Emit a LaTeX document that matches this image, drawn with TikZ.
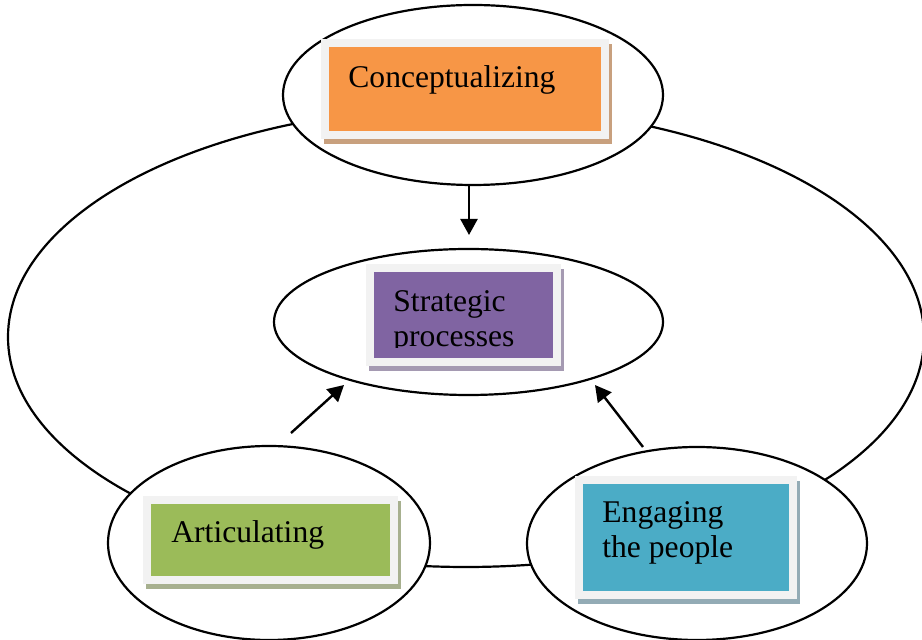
\documentclass[tikz,border=0pt]{standalone}
\usepackage{fontspec}
\setmainfont{Liberation Serif}
\usetikzlibrary{shapes.geometric, arrows.meta}

\definecolor{framegray}{HTML}{F2F2F2}
\definecolor{concorange}{HTML}{F79646}
\definecolor{concshade}{HTML}{C8A07E}
\definecolor{strapurple}{HTML}{8064A2}
\definecolor{strashade}{HTML}{A59AB2}
\definecolor{artgreen}{HTML}{9BBB59}
\definecolor{artshade}{HTML}{A7B08F}
\definecolor{engcyan}{HTML}{4BACC6}
\definecolor{engshade}{HTML}{93ABB5}

\tikzset{
  ring/.style={draw, ellipse, line width=1.1pt, fill=white, inner sep=0pt},
  tile/.style 2 args={rectangle, fill=#1, draw=framegray, line width=4pt, inner sep=0pt,
    preaction={draw=#2, fill=#2, transform canvas={shift={(1.5pt,-2.75pt)}}}},
  word/.style={font=\fontsize{15.8}{17.5}\selectfont, anchor=base west, inner sep=0pt, align=left},
  flow/.style={line width=1.2pt, -{Triangle[width=8.5pt, length=8pt]}}
}

\begin{document}
\begin{tikzpicture}[x=0.5pt, y=-0.5pt]
\useasboundingbox (0,0) rectangle (922,640);

% Outer cycle
\node[ring, minimum width=458pt, minimum height=230pt] (cycle) at (466,337) {};

% Ellipses of the three activities and the core
\node[ring, minimum width=190pt, minimum height=90pt] (conc) at (473,95) {};
\node[ring, minimum width=194.5pt, minimum height=73pt] (strat) at (468.5,322) {};
\node[ring, minimum width=161pt, minimum height=97pt] (art) at (269,543) {};
\node[ring, minimum width=170pt, minimum height=96.5pt] (eng) at (697,543.5) {};

% Coloured boxes
\node[tile={concorange}{concshade}, minimum width=140pt, minimum height=46pt] (concbox) at (465,89) {};
\node[tile={strapurple}{strashade}, minimum width=93.5pt, minimum height=47pt] (strabox) at (463.5,315) {};
\node[tile={artgreen}{artshade}, minimum width=123.5pt, minimum height=40pt] (artbox) at (270.5,540) {};
\node[tile={engcyan}{engshade}, minimum width=107pt, minimum height=57.5pt] (engbox) at (686,537.5) {};

% Texts
\node[word] (conctext) at (348,88) {Conceptualizing};
\begin{scope}
  \clip (366,264) rectangle (561,348);
  \node[word] (stratext) at (393,347) {Strategic\\processes};
\end{scope}
\node[word] (arttext) at (171,543) {Articulating};
\node[word] (engtext) at (602,558) {Engaging\\the people};

% Arrows towards the core
\coordinate (c0) at (469,185);
\coordinate (c1) at (469,235);
\coordinate (a0) at (291,433);
\coordinate (a1) at (344,385);
\coordinate (e0) at (643,447);
\coordinate (e1) at (595,385);
\draw[flow] (c0) -- (c1);
\draw[flow] (a0) -- (a1);
\draw[flow] (e0) -- (e1);
\end{tikzpicture}
\end{document}
